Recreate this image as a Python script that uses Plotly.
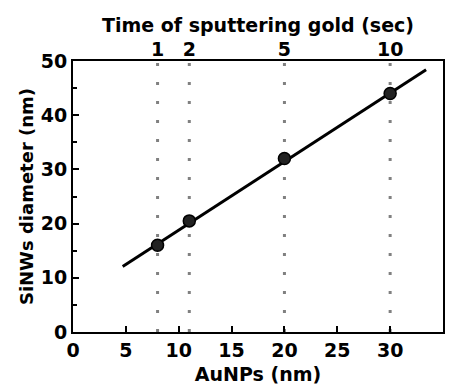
import plotly.graph_objects as go

aunp_nm = [8, 11, 20, 30]
sinw_nm = [16, 20.5, 32, 44]
sputter_sec = ["1", "2", "5", "10"]
fit_x = [4.7, 33.4]
fit_y = [12.1, 48.4]
x_ticks = [0, 5, 10, 15, 20, 25, 30, 35]
y_ticks = [0, 10, 20, 30, 40, 50]
y_minor = [5, 15, 25, 35, 45]

FAM = "DejaVu Sans"
tickfont = dict(family=FAM, size=19, color="black")
titlefont = dict(family=FAM, size=19, color="black")

def b(v):
    return [f"<b>{t}</b>" for t in v]

fig = go.Figure()
for xv in aunp_nm:
    fig.add_trace(go.Scatter(x=[xv, xv], y=[0, 50], mode="lines",
                             line=dict(color="#808080", width=3, dash="3px,16px"),
                             showlegend=False, hoverinfo="skip"))
fig.add_trace(go.Scatter(x=fit_x, y=fit_y, mode="lines",
                         line=dict(color="black", width=3), showlegend=False))
fig.add_trace(go.Scatter(x=aunp_nm, y=sinw_nm, mode="markers",
                         marker=dict(color="#222222", size=12,
                                     line=dict(color="black", width=1.5)),
                         showlegend=False))
fig.add_trace(go.Scatter(x=aunp_nm, y=sinw_nm, xaxis="x2", mode="markers",
                         marker=dict(opacity=0), showlegend=False, hoverinfo="skip"))

fig.update_layout(
    width=456, height=386,
    margin=dict(l=73, r=13, t=61, b=54, autoexpand=False),
    plot_bgcolor="white", paper_bgcolor="white",
    font=tickfont,
    xaxis=dict(range=[0, 35], tickvals=x_ticks, ticktext=b(x_ticks),
               ticks="inside", ticklen=6, tickwidth=2, tickcolor="black",
               showline=True, linecolor="black", linewidth=2, mirror=True,
               showgrid=False, zeroline=False, tickfont=tickfont, automargin=False,
               title=dict(text="<b>AuNPs (nm)</b>", standoff=8, font=titlefont)),
    xaxis2=dict(range=[0, 35], overlaying="x", side="top",
                tickvals=aunp_nm, ticktext=b(sputter_sec), ticks="",
                showgrid=False, zeroline=False, showline=False, tickfont=tickfont,
                automargin=False,
                title=dict(text="<b>Time of sputtering gold (sec)</b>", standoff=0,
                           font=titlefont)),
    yaxis=dict(range=[0, 50], tickvals=y_ticks, ticktext=b(y_ticks),
               ticks="inside", ticklen=6, tickwidth=2, tickcolor="black",
               minor=dict(tickvals=y_minor, ticks="inside", ticklen=4,
                          tickwidth=2, tickcolor="black"),
               showline=True, linecolor="black", linewidth=2, mirror=True,
               showgrid=False, zeroline=False, tickfont=tickfont, automargin=False,
               title=dict(text="<b>SiNWs diameter (nm)</b>", standoff=2,
                          font=dict(family=FAM, size=18, color="black"))),
)

fig.write_html("out.html")
